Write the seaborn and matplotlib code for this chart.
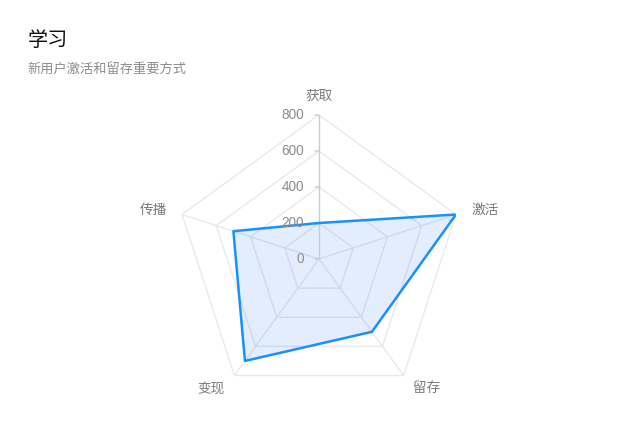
import numpy as np
import pandas as pd
import matplotlib
matplotlib.use("Agg")
import matplotlib.pyplot as plt
import seaborn as sns

# ---- data ----
categories = ["获取", "激活", "留存", "变现", "传播"]
values = [200, 800, 500, 700, 500]
radial_ticks = [0, 200, 400, 600, 800]
title = "学习"
subtitle = "新用户激活和留存重要方式"

sns.set_theme(style="white")
plt.rcParams["font.family"] = ["Noto Sans CJK SC", "DejaVu Sans"]

fig = plt.figure(figsize=(6.4, 4.3), dpi=100)
fig.patch.set_facecolor("white")

cx, cy, R = 319, 259, 144
W, H = 640, 430
ax = fig.add_axes([(cx - R) / W, (H - cy - R) / H, 2 * R / W, 2 * R / H],
                  projection="polar")
ax.set_theta_offset(np.pi / 2)
ax.set_theta_direction(-1)
ax.set_ylim(0, max(radial_ticks))
ax.grid(False)
ax.spines["polar"].set_visible(False)
ax.set_facecolor("none")

n = len(categories)
theta = np.arange(n) * 2 * np.pi / n
theta_c = np.append(theta, theta[0])

# polygon grid
for lv in radial_ticks[1:]:
    ax.plot(theta_c, [lv] * (n + 1), color="#e9e9e9", lw=1, zorder=1)
# spokes
rmax = max(radial_ticks)
for i, t in enumerate(theta):
    col = "#cccccc" if i == 0 else "#e9e9e9"
    ax.plot([t, t], [0, rmax], color=col, lw=1, zorder=1 if i else 4)

# data
df = pd.DataFrame({"theta": theta_c, "value": values + values[:1]})
ax.fill(df["theta"], df["value"], color="#1f6cf0", alpha=0.12, lw=0, zorder=2)
sns.lineplot(data=df, x="theta", y="value", sort=False, estimator=None, ax=ax,
             color="#1890ff", lw=1.8, zorder=5)
ax.set_xlabel("")
ax.set_ylabel("")
ax.set_xticks([])
ax.set_yticks([])
ax.set_ylim(0, rmax)

# radial tick labels and tick marks on top axis
for tv in radial_ticks:
    ax.annotate(str(tv), xy=(0, tv), xytext=(-15, 0), textcoords="offset pixels",
                ha="right", va="center", fontsize=9.8, color="#8c8c8c", zorder=6,
                family=["Liberation Sans", "DejaVu Sans"])
    ax.annotate("", xy=(0, tv), xytext=(-4, 0), textcoords="offset pixels",
                arrowprops=dict(arrowstyle="-", color="#cccccc", lw=1,
                                shrinkA=0, shrinkB=0))

# category labels
for t, lab in zip(theta, categories):
    dx, dy = np.sin(t), np.cos(t)
    off = 19 if abs(dx) < 1e-6 else 16
    ha = "center" if abs(dx) < 1e-6 else ("left" if dx > 0 else "right")
    ax.annotate(lab, xy=(t, rmax), xytext=(dx * off, dy * off),
                textcoords="offset pixels", ha=ha, va="center",
                fontsize=9.8, color="#7a7a7a")

fig.text(28 / W, 1 - 41 / H, title, fontsize=14.5, color="#111111", va="center", ha="left")
fig.text(27 / W, 1 - 69 / H, subtitle, fontsize=9.5, color="#8c8c8c", va="center", ha="left")

fig.savefig("out.png", dpi=100, facecolor="white")
